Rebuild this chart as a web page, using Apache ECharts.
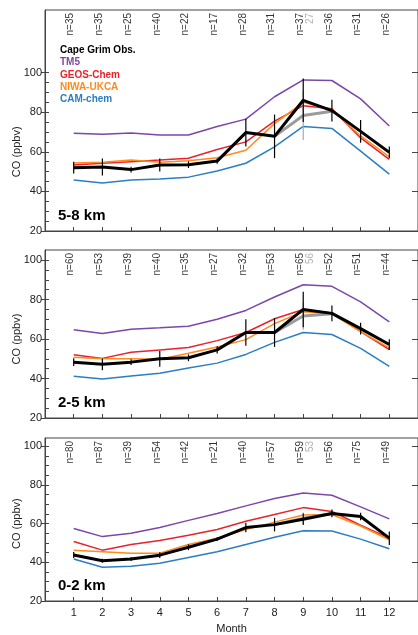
<!DOCTYPE html>
<html><head><meta charset="utf-8">
<script src="https://cdn.jsdelivr.net/npm/echarts@6/dist/echarts.min.js"></script>
<style>html,body{margin:0;padding:0;background:#fff}#c{width:418px;height:635px}</style>
</head><body><div id="c"></div>
<script>
const months = [1,2,3,4,5,6,7,8,9,10,11,12];
const panelNames = ['5-8 km','2-5 km','0-2 km'];
const yTicks = [20,40,60,80,100];
const yMinorTicks = [20,25,30,35,40,45,50,55,60,65,70,75,80,85,90,95,100];

// ---- 5-8 km ----
const obs58    = [52.0,52.3,51.0,53.3,53.5,55.3,69.7,67.8,86.0,80.8,70.3,59.7];
const obsErr58 = [3.0,4.3,1.5,3.3,1.7,1.3,7.0,11.0,11.0,5.5,5.7,3.0];
const gray58   = [null,null,null,null,null,null,null,67.8,78.3,80.5,null,null];
const grayErr58= [null,null,null,null,null,null,null,null,12.4,null,null,null];
const tm5_58   = [69.3,68.8,69.5,68.5,68.5,72.8,76.5,87.8,96.3,96.0,86.7,73.0];
const geos_58  = [53.3,54.2,55.0,55.8,56.7,61.2,65.0,75.5,83.3,81.7,67.0,56.2];
const niwa_58  = [54.3,54.7,55.8,54.7,55.5,57.0,60.8,74.2,85.0,81.2,68.0,57.5];
const cam_58   = [45.8,44.3,45.8,46.2,47.2,50.3,54.2,62.5,72.8,71.8,60.3,48.7];
const n58      = [35,35,25,40,22,17,28,31,37,36,31,26];
const nGray58  = '27';

// ---- 2-5 km ----
const obs25    = [48.3,47.2,48.3,50.0,50.5,54.5,63.3,63.3,75.0,73.0,65.3,57.2];
const obsErr25 = [2.0,3.0,1.5,4.0,1.7,1.8,6.7,7.3,9.0,4.0,3.0,2.7];
const gray25   = [null,null,null,null,null,null,null,63.3,71.7,72.8,null,null];
const grayErr25= [null,null,null,null,null,null,null,null,7.0,null,null,null];
const tm5_25   = [64.7,62.8,65.0,65.7,66.5,70.0,74.5,81.3,87.5,86.7,78.8,68.7];
const geos_25  = [52.0,50.2,53.3,54.5,55.7,59.2,63.3,70.3,75.0,73.2,63.7,54.7];
const niwa_25  = [50.8,50.0,50.0,49.8,52.8,56.0,59.7,67.8,73.8,72.8,63.8,55.5];
const cam_25   = [41.2,39.7,41.3,42.7,45.3,47.8,52.2,58.3,63.3,62.3,55.3,46.2];
const n25      = [60,53,39,40,35,27,32,53,65,52,51,44];
const nGray25  = '56';

// ---- 0-2 km ----
const obs02    = [43.8,40.8,41.7,43.7,47.8,52.0,58.0,59.5,62.3,65.3,63.7,52.5];
const obsErr02 = [1.5,1.0,1.0,1.5,1.5,1.0,2.5,3.5,3.0,2.0,2.0,3.5];
const gray02   = [null,null,null,null,null,null,null,59.5,62.8,65.3,null,null];
const grayErr02= [null,null,null,null,null,null,null,null,3.0,null,null,null];
const tm5_02   = [57.5,53.3,55.0,58.0,61.7,65.3,69.2,73.0,75.8,74.7,68.7,62.5];
const geos_02  = [50.8,46.3,49.2,51.3,54.0,57.0,61.2,64.7,68.3,66.3,59.2,52.5];
const niwa_02  = [46.2,45.5,44.7,44.7,49.2,52.5,57.0,60.8,64.5,64.7,58.8,51.7];
const cam_02   = [41.7,37.5,38.0,39.5,42.5,45.5,49.2,53.0,56.3,56.2,52.0,47.0];
const n02      = [80,87,39,54,42,21,40,57,59,56,75,49];
const nGray02  = '53';

const legendNames  = ['Cape Grim Obs.','TM5','GEOS-Chem','NIWA-UKCA','CAM-chem'];
const legendColors = ['#000000','#7B47A8','#E8232B','#FF8A1C','#2B7EC1'];

const panels = [
  {obs:obs58, err:obsErr58, gray:gray58, grayErr:grayErr58, models:[tm5_58,geos_58,niwa_58,cam_58], n:n58, nGray:nGray58},
  {obs:obs25, err:obsErr25, gray:gray25, grayErr:grayErr25, models:[tm5_25,geos_25,niwa_25,cam_25], n:n25, nGray:nGray25},
  {obs:obs02, err:obsErr02, gray:gray02, grayErr:grayErr02, models:[tm5_02,geos_02,niwa_02,cam_02], n:n02, nGray:nGray02}
];

// layout
const grids = [
  {top:10,  height:221, yMax:131.6},
  {top:250, height:168, yMax:105.1},
  {top:438, height:167, yMax:104.3}
];
const FONT = 'Liberation Sans, Arial, Helvetica, sans-serif';
const AX = '#444';

const option = {
  animation:false,
  backgroundColor:'#fff',
  textStyle:{fontFamily:FONT},
  grid:[], xAxis:[], yAxis:[], series:[], graphic:[]
};

grids.forEach((g,i)=>{
  option.grid.push({left:45, right:-3, top:g.top, height:g.height, show:true, borderColor:AX, borderWidth:1, backgroundColor:'transparent'});
  const isBottom = i===2;
  option.xAxis.push({
    type:'value', gridIndex:i, min:0, max:13, interval:1,
    splitLine:{show:false},
    axisLine:{show:true, lineStyle:{color:AX, width:1}},
    axisTick:{show:true, inside:true, length:4, customValues:months, lineStyle:{color:AX}},
    axisLabel:{show:isBottom, customValues:months, fontSize:11, color:'#222', margin:6, fontFamily:FONT},
    name:isBottom?'Month':'', nameLocation:'middle', nameGap:22,
    nameTextStyle:{fontSize:11, color:'#222', fontFamily:FONT}
  });
  option.yAxis.push({
    type:'value', gridIndex:i, min:20, max:g.yMax, position:'left',
    splitLine:{show:false},
    axisLine:{show:true, lineStyle:{color:AX, width:1}},
    axisTick:{show:true, inside:false, length:4, customValues:yTicks, lineStyle:{color:AX}},
    axisLabel:{show:true, customValues:yTicks, fontSize:11, color:'#222', margin:3, fontFamily:FONT}
  });
  option.yAxis.push({
    type:'value', gridIndex:i, min:20, max:g.yMax, position:'left', offset:0,
    splitLine:{show:false}, axisLine:{show:false},
    axisTick:{show:true, inside:true, length:4, customValues:yMinorTicks, lineStyle:{color:AX}},
    axisLabel:{show:false}
  });
  option.yAxis.push({
    type:'value', gridIndex:i, min:20, max:g.yMax, position:'right', offset:0,
    splitLine:{show:false}, axisLine:{show:false},
    axisTick:{show:true, inside:true, length:6, customValues:yTicks, lineStyle:{color:AX}},
    axisLabel:{show:false}
  });

  const p = panels[i];
  const yi = i*3;
  const order = [3,0,1,2];
  order.forEach(k=>{
    option.series.push({
      type:'line', name:legendNames[k+1], xAxisIndex:i, yAxisIndex:yi,
      data: months.map((m,j)=>[m, p.models[k][j]]),
      symbol:'none', lineStyle:{width:1.5, color:legendColors[k+1]}, itemStyle:{color:legendColors[k+1]}, z:2
    });
  });
  option.series.push({
    type:'line', name:'subset', xAxisIndex:i, yAxisIndex:yi,
    data: months.map((m,j)=>[m, p.gray[j]]),
    symbol:'none', connectNulls:false, lineStyle:{width:3, color:'#9b9b9b'}, z:3
  });
  const errRender = (color,w)=> (params, api)=>{
    const a = api.coord([api.value(0), api.value(1)]);
    const b = api.coord([api.value(0), api.value(2)]);
    return {type:'line', shape:{x1:a[0],y1:a[1],x2:b[0],y2:b[1]}, style:{stroke:color, lineWidth:w}};
  };
  option.series.push({
    type:'custom', name:'subset err', xAxisIndex:i, yAxisIndex:yi,
    data: months.map((m,j)=>[m, p.gray[j], p.grayErr[j]]).filter(d=>d[2]!=null).map(d=>[d[0], d[1]-d[2], d[1]+d[2]]),
    encode:{x:0, y:[1,2]},
    renderItem: errRender('#a8a8a8',1.2), z:4
  });
  option.series.push({
    type:'line', name:'Cape Grim Obs.', xAxisIndex:i, yAxisIndex:yi,
    data: months.map((m,j)=>[m, p.obs[j]]),
    symbol:'none', lineStyle:{width:3, color:'#000'}, z:6
  });
  option.series.push({
    type:'custom', name:'obs err', xAxisIndex:i, yAxisIndex:yi,
    data: months.map((m,j)=>[m, p.obs[j]-p.err[j], p.obs[j]+p.err[j]]),
    encode:{x:0, y:[1,2]},
    renderItem: errRender('#000',1.2), z:7
  });
  option.series.push({
    type:'scatter', name:'n', xAxisIndex:i, yAxisIndex:yi, symbolSize:0, silent:true, clip:false,
    data: months.map((m,j)=>({value:[m, g.yMax], label:{formatter:'n='+p.n[j]}})),
    label:{show:true, position:[2,3], align:'right', verticalAlign:'bottom', rotate:90,
      fontSize:10, color:'#000', fontFamily:FONT},
    z:8
  });
  option.series.push({
    type:'scatter', name:'n subset', xAxisIndex:i, yAxisIndex:yi, symbolSize:0, silent:true, clip:false,
    data: [{value:[9, g.yMax], label:{formatter:p.nGray}}],
    label:{show:true, position:[12,3], align:'right', verticalAlign:'bottom', rotate:90,
      fontSize:10, color:'#a0a0a0', fontFamily:FONT},
    z:8
  });
});

legendNames.forEach((nm,k)=>{
  option.graphic.push({type:'text', x:60, y:50+k*12.4,
    style:{text:nm, fill:legendColors[k], font:'bold 10px '+FONT, textVerticalAlign:'middle', textAlign:'left'}});
});

const chart = echarts.init(document.getElementById('c'), null, {renderer:'canvas'});
chart.setOption(option);

const extra = [];
grids.forEach((g,i)=>{
  const y60 = chart.convertToPixel({yAxisIndex:i*3}, 60);
  const y20 = chart.convertToPixel({yAxisIndex:i*3}, 20);
  extra.push({type:'text', x:17, y:y60, rotation:Math.PI/2,
    style:{text:'CO (ppbv)', fill:'#222', font:'11px '+FONT, textAlign:'center', textVerticalAlign:'middle'}});
  extra.push({type:'text', x:58, y:y20-15,
    style:{text:panelNames[i], fill:'#000', font:'bold 15px '+FONT, textAlign:'left', textVerticalAlign:'middle'}});
});
chart.setOption({graphic: option.graphic.concat(extra)});
</script></body></html>
